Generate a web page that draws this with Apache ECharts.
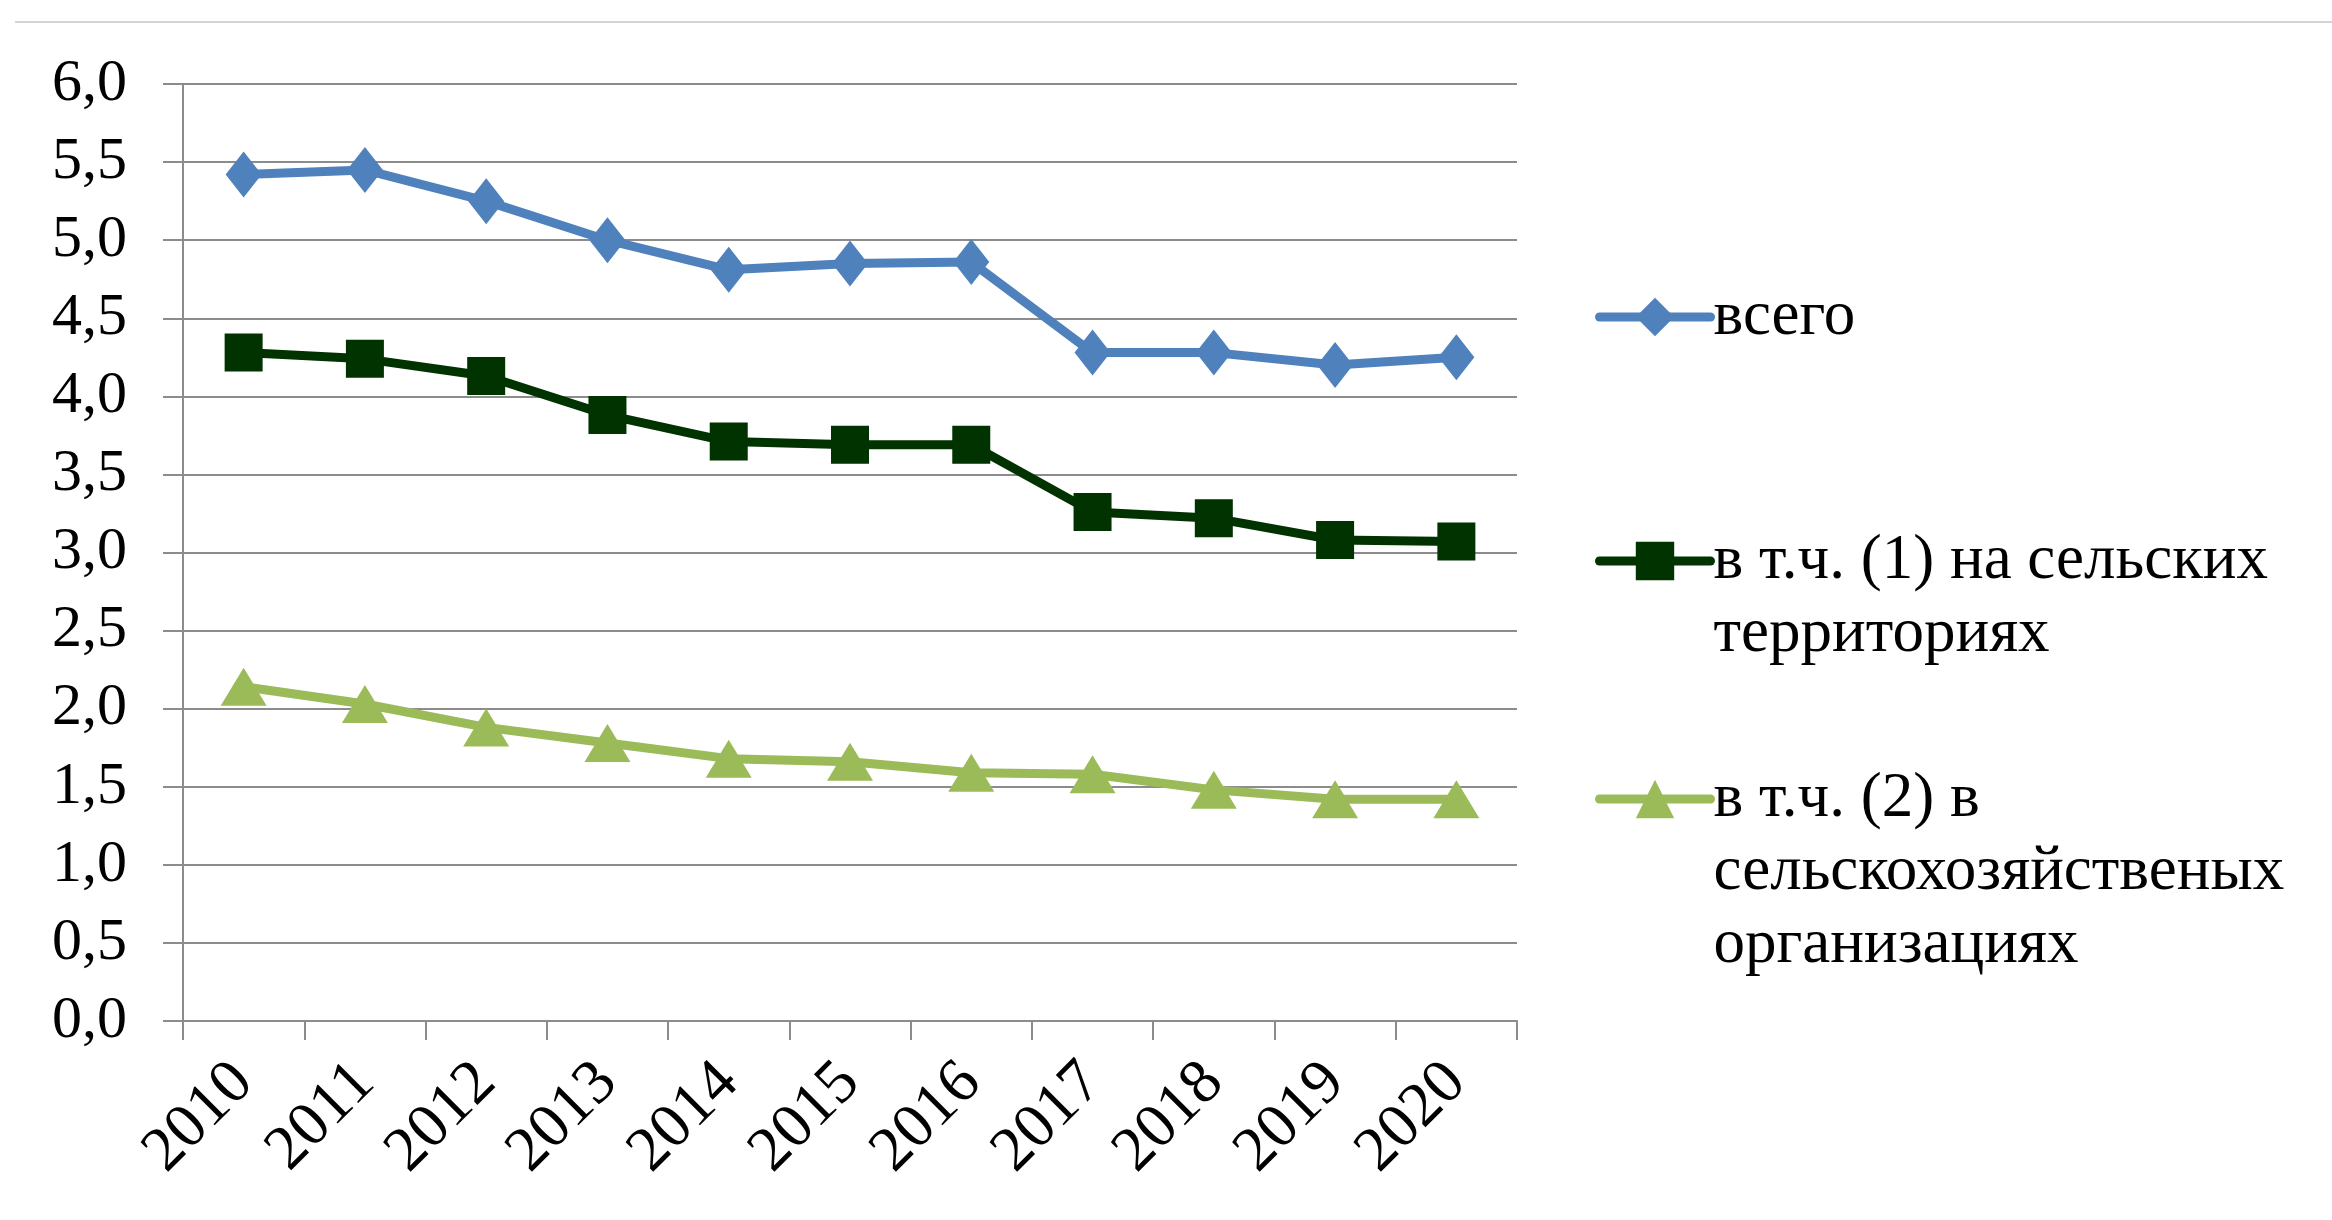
<!DOCTYPE html>
<html>
<head>
<meta charset="utf-8">
<script src="https://cdn.jsdelivr.net/npm/echarts@6/dist/echarts.min.js"></script>
<style>
html,body{margin:0;padding:0;background:#fff;}
#chart{width:2332px;height:1220px;}
</style>
</head>
<body>
<div id="chart"></div>
<script>
const years = ['2010','2011','2012','2013','2014','2015','2016','2017','2018','2019','2020'];
const totalVals = [5.42, 5.45, 5.25, 5.00, 4.81, 4.85, 4.86, 4.28, 4.28, 4.20, 4.25];
const ruralVals = [4.28, 4.24, 4.13, 3.88, 3.71, 3.69, 3.69, 3.26, 3.22, 3.08, 3.07];
const agriVals  = [2.14, 2.03, 1.88, 1.78, 1.68, 1.66, 1.59, 1.58, 1.48, 1.42, 1.42];
const seriesNames = ['всего', 'в т.ч. (1) на сельских территориях', 'в т.ч. (2) в сельскохозяйственых организациях'];
const legendLines = [['всего'], ['в т.ч. (1) на сельских', 'территориях'], ['в т.ч. (2) в', 'сельскохозяйственых', 'организациях']];

const FONT = '"Liberation Serif", "Times New Roman", serif';
const FS_Y = 60;
const FS_X = 63;
const FS_L = 63;
const LH = 73;
const colors = ['#4F81BD', '#003300', '#9BBB59'];
const symbols = ['diamond', 'rect', 'triangle'];
const symSizes = [[36, 46], [38, 38], [46, 38]];
const dataSets = [totalVals, ruralVals, agriVals];

const chart = echarts.init(document.getElementById('chart'), null, {renderer: 'canvas'});

function legendText(lines) {
  const pad = [];
  for (let i = 1; i < lines.length; i++) pad.push(' ');
  return pad.concat(lines).join('\n');
}
const legendCenters = [317, 561, 799];
const legends = seriesNames.map((n, i) => {
  const nLines = 2 * legendLines[i].length - 1;
  return {
    data: [{name: n}],
    left: 1595,
    top: legendCenters[i] - nLines * LH / 2,
    padding: 0,
    orient: 'vertical',
    itemWidth: 111,
    itemHeight: 48,
    itemGap: 0,
    selectedMode: false,
    lineStyle: {width: 9, cap: 'round'},
    formatter: () => legendText(legendLines[i]),
    textStyle: {fontFamily: FONT, fontSize: FS_L, color: '#000', lineHeight: LH, padding: [0, 0, 0, -2]}
  };
});

const option = {
  backgroundColor: '#fff',
  animation: false,
  grid: {left: 183, right: 815, top: 84, bottom: 199, containLabel: false},
  graphic: [{
    type: 'line', shape: {x1: 15, y1: 22, x2: 2332, y2: 22},
    style: {stroke: '#d4d4d4', lineWidth: 2}
  }],
  legend: legends,
  xAxis: {
    type: 'category',
    data: years,
    boundaryGap: true,
    axisLine: {show: true, lineStyle: {color: '#8c8c8c', width: 2}},
    axisTick: {show: true, length: 19, lineStyle: {color: '#8c8c8c', width: 2}},
    axisLabel: {rotate: 45, margin: 52, fontFamily: FONT, fontSize: FS_X, color: '#000'},
    splitLine: {show: false}
  },
  yAxis: {
    type: 'value',
    min: 0, max: 6, interval: 0.5,
    axisLine: {show: true, lineStyle: {color: '#8c8c8c', width: 2}},
    axisTick: {show: true, length: 20, lineStyle: {color: '#8c8c8c', width: 2}},
    axisLabel: {margin: 56, fontFamily: FONT, fontSize: FS_Y, color: '#000',
      formatter: v => v.toFixed(1).replace('.', ',')},
    splitLine: {show: true, lineStyle: {color: '#8c8c8c', width: 2}}
  },
  series: seriesNames.map((n, i) => ({
    name: n,
    type: 'line',
    data: dataSets[i],
    symbol: symbols[i],
    symbolSize: symSizes[i],
    showAllSymbol: true,
    lineStyle: {color: colors[i], width: 9},
    itemStyle: {color: colors[i]},
    z: 3 - i
  }))
};
chart.setOption(option);
</script>
</body>
</html>
